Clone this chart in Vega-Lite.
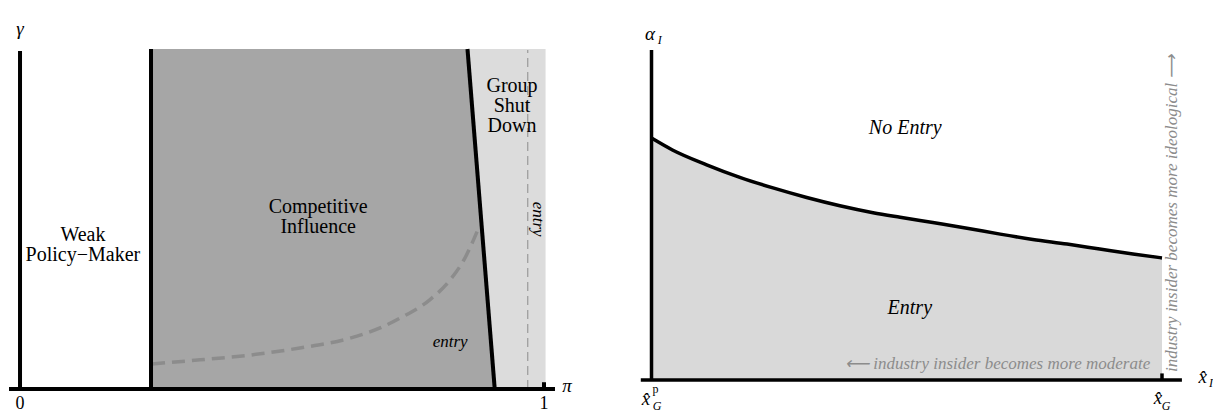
{
  "$schema": "https://vega.github.io/schema/vega-lite/v6.json",
  "padding": 0,
  "spacing": 0,
  "background": "white",
  "config": {"view": {"stroke": null}, "text": {"font": "Liberation Serif"}},
  "datasets": {
    "leftRegions": [
      {"region": "Competitive Influence", "y": 0, "x": 0.25, "x2": 0.906},
      {"region": "Competitive Influence", "y": 1.003, "x": 0.25, "x2": 0.854},
      {"region": "Group Shut Down", "y": 0, "x": 0.906, "x2": 1.003},
      {"region": "Group Shut Down", "y": 1.003, "x": 0.854, "x2": 1.003}
    ],
    "leftEntryLine": [{"x": 0.969, "y": 0, "y2": 1.0}],
    "leftEntryCurve": [
      {"x": 0.252, "y": 0.074}, {"x": 0.344, "y": 0.086}, {"x": 0.439, "y": 0.1},
      {"x": 0.534, "y": 0.121}, {"x": 0.63, "y": 0.15}, {"x": 0.687, "y": 0.18},
      {"x": 0.725, "y": 0.209}, {"x": 0.782, "y": 0.263}, {"x": 0.821, "y": 0.322},
      {"x": 0.849, "y": 0.386}, {"x": 0.876, "y": 0.478}
    ],
    "leftLines": [
      {"x": 0, "y": 0, "x2": 0, "y2": 0.997},
      {"x": 0.25, "y": 0, "x2": 0.25, "y2": 1.003},
      {"x": 0.906, "y": 0, "x2": 0.854, "y2": 1.003},
      {"x": -0.021, "y": 0, "x2": 1.021, "y2": 0},
      {"x": 1.0, "y": 0, "x2": 1.0, "y2": 0.02}
    ],
    "leftLabels": [
      {"x": 0.12, "y": 0.437, "label": "Weak"},
      {"x": 0.12, "y": 0.378, "label": "Policy−Maker"},
      {"x": 0.569, "y": 0.519, "label": "Competitive"},
      {"x": 0.569, "y": 0.46, "label": "Influence"},
      {"x": 0.939, "y": 0.876, "label": "Group"},
      {"x": 0.939, "y": 0.817, "label": "Shut"},
      {"x": 0.939, "y": 0.758, "label": "Down"}
    ],
    "leftEntry": [{"x": 0.821, "y": 0.124, "label": "entry"}],
    "leftEntryRot": [{"x": 0.989, "y": 0.501, "label": "entry"}],
    "leftAxisSymbols": [
      {"x": 0, "y": 1.044, "label": "γ"},
      {"x": 1.044, "y": -0.009, "label": "π"}
    ],
    "leftTicks": [
      {"x": 0, "y": -0.059, "label": "0"},
      {"x": 1, "y": -0.059, "label": "1"}
    ],
    "rightCurve": [
      {"x": 0, "y": 0.733}, {"x": 0.041, "y": 0.697}, {"x": 0.108, "y": 0.652},
      {"x": 0.173, "y": 0.614}, {"x": 0.238, "y": 0.582}, {"x": 0.304, "y": 0.553},
      {"x": 0.369, "y": 0.528}, {"x": 0.434, "y": 0.507}, {"x": 0.487, "y": 0.493},
      {"x": 0.551, "y": 0.477}, {"x": 0.618, "y": 0.46}, {"x": 0.683, "y": 0.442},
      {"x": 0.747, "y": 0.426}, {"x": 0.814, "y": 0.412}, {"x": 0.878, "y": 0.397},
      {"x": 0.943, "y": 0.382}, {"x": 1.0, "y": 0.37}
    ],
    "rightLines": [
      {"x": 0, "y": 0, "x2": 0, "y2": 1.0},
      {"x": -0.021, "y": 0, "x2": 1.039, "y2": 0},
      {"x": 1.0, "y": 0, "x2": 1.0, "y2": 0.02}
    ],
    "rightRegionLabels": [
      {"x": 0.497, "y": 0.745, "label": "No Entry"},
      {"x": 0.506, "y": 0.2, "label": "Entry"}
    ],
    "rightModerate": [{"x": 0.977, "y": 0.033, "label": "⟵ industry insider becomes more moderate"}],
    "rightIdeological": [{"x": 1.0196, "y": 0.024, "label": "industry insider becomes more ideological ⟶"}],
    "rightSymbols": [
      {"x": -0.003, "y": 1.03, "label": "α"},
      {"x": 1.08, "y": -0.009, "label": "x̂"},
      {"x": -0.011, "y": -0.076, "label": "x̂"},
      {"x": 0.992, "y": -0.073, "label": "x̂"}
    ],
    "rightSubs": [
      {"x": 0.016, "y": 1.018, "label": "I"},
      {"x": 1.096, "y": -0.021, "label": "I"},
      {"x": 0.011, "y": -0.091, "label": "G"},
      {"x": 1.008, "y": -0.091, "label": "G"}
    ],
    "rightSups": [{"x": 0.008, "y": -0.039, "label": "p"}]
  },
  "hconcat": [
    {
      "width": 600,
      "height": 411,
      "layer": [
        {
          "data": {"name": "leftRegions"},
          "mark": {"type": "area", "orient": "horizontal"},
          "encoding": {
            "y": {"field": "y", "type": "quantitative", "scale": {"domain": [-0.0649, 1.1475], "nice": false, "zero": false}, "axis": null},
            "x": {"field": "x", "type": "quantitative", "scale": {"domain": [-0.0382, 1.1069], "nice": false, "zero": false}, "axis": null},
            "x2": {"field": "x2"},
            "color": {"field": "region", "type": "nominal", "scale": {"domain": ["Competitive Influence", "Group Shut Down"], "range": ["#a6a6a6", "#dcdcdc"]}, "legend": null}
          }
        },
        {
          "data": {"name": "leftEntryLine"},
          "mark": {"type": "rule", "color": "#9a9a9a", "strokeWidth": 1.2, "strokeDash": [9, 5]},
          "encoding": {
            "x": {"field": "x", "type": "quantitative", "axis": null},
            "y": {"field": "y", "type": "quantitative", "axis": null},
            "y2": {"field": "y2"}
          }
        },
        {
          "data": {"name": "leftEntryCurve"},
          "mark": {"type": "line", "color": "#8c8c8c", "strokeWidth": 3.5, "strokeDash": [13, 7], "interpolate": "monotone"},
          "encoding": {
            "x": {"field": "x", "type": "quantitative", "axis": null},
            "y": {"field": "y", "type": "quantitative", "axis": null}
          }
        },
        {
          "data": {"name": "leftLines"},
          "mark": {"type": "rule", "color": "black", "strokeWidth": 4},
          "encoding": {
            "x": {"field": "x", "type": "quantitative", "axis": null},
            "y": {"field": "y", "type": "quantitative", "axis": null},
            "x2": {"field": "x2"},
            "y2": {"field": "y2"}
          }
        },
        {
          "data": {"name": "leftLabels"},
          "mark": {"type": "text", "align": "center", "baseline": "alphabetic", "fontSize": 20, "font": "Liberation Serif", "color": "black"},
          "encoding": {
            "x": {"field": "x", "type": "quantitative", "axis": null},
            "y": {"field": "y", "type": "quantitative", "axis": null},
            "text": {"field": "label"}
          }
        },
        {
          "data": {"name": "leftEntry"},
          "mark": {"type": "text", "align": "center", "baseline": "alphabetic", "fontSize": 17, "font": "Liberation Serif", "fontStyle": "italic", "color": "black"},
          "encoding": {
            "x": {"field": "x", "type": "quantitative", "axis": null},
            "y": {"field": "y", "type": "quantitative", "axis": null},
            "text": {"field": "label"}
          }
        },
        {
          "data": {"name": "leftEntryRot"},
          "mark": {"type": "text", "align": "center", "baseline": "middle", "angle": 90, "fontSize": 17, "font": "Liberation Serif", "fontStyle": "italic", "color": "black"},
          "encoding": {
            "x": {"field": "x", "type": "quantitative", "axis": null},
            "y": {"field": "y", "type": "quantitative", "axis": null},
            "text": {"field": "label"}
          }
        },
        {
          "data": {"name": "leftAxisSymbols"},
          "mark": {"type": "text", "align": "center", "baseline": "alphabetic", "fontSize": 19, "font": "Liberation Serif", "fontStyle": "italic", "color": "black"},
          "encoding": {
            "x": {"field": "x", "type": "quantitative", "axis": null},
            "y": {"field": "y", "type": "quantitative", "axis": null},
            "text": {"field": "label"}
          }
        },
        {
          "data": {"name": "leftTicks"},
          "mark": {"type": "text", "align": "center", "baseline": "alphabetic", "fontSize": 18, "font": "Liberation Serif", "color": "black"},
          "encoding": {
            "x": {"field": "x", "type": "quantitative", "axis": null},
            "y": {"field": "y", "type": "quantitative", "axis": null},
            "text": {"field": "label"}
          }
        }
      ]
    },
    {
      "width": 613,
      "height": 411,
      "layer": [
        {
          "data": {"name": "rightCurve"},
          "mark": {"type": "area", "color": "#d9d9d9", "interpolate": "monotone"},
          "encoding": {
            "x": {"field": "x", "type": "quantitative", "scale": {"domain": [-0.1009, 1.0999], "nice": false, "zero": false}, "axis": null},
            "y": {"field": "y", "type": "quantitative", "scale": {"domain": [-0.0939, 1.1515], "nice": false, "zero": false}, "axis": null},
            "y2": {"datum": 0}
          }
        },
        {
          "data": {"name": "rightCurve"},
          "mark": {"type": "line", "color": "black", "strokeWidth": 3.5, "interpolate": "monotone"},
          "encoding": {
            "x": {"field": "x", "type": "quantitative", "axis": null},
            "y": {"field": "y", "type": "quantitative", "axis": null}
          }
        },
        {
          "data": {"name": "rightLines"},
          "mark": {"type": "rule", "color": "black", "strokeWidth": 3.5},
          "encoding": {
            "x": {"field": "x", "type": "quantitative", "axis": null},
            "y": {"field": "y", "type": "quantitative", "axis": null},
            "x2": {"field": "x2"},
            "y2": {"field": "y2"}
          }
        },
        {
          "data": {"name": "rightRegionLabels"},
          "mark": {"type": "text", "align": "center", "baseline": "alphabetic", "fontSize": 20, "font": "Liberation Serif", "fontStyle": "italic", "color": "black"},
          "encoding": {
            "x": {"field": "x", "type": "quantitative", "axis": null},
            "y": {"field": "y", "type": "quantitative", "axis": null},
            "text": {"field": "label"}
          }
        },
        {
          "data": {"name": "rightModerate"},
          "mark": {"type": "text", "align": "right", "baseline": "alphabetic", "fontSize": 17, "font": "Liberation Serif", "fontStyle": "italic", "color": "#8c8c8c"},
          "encoding": {
            "x": {"field": "x", "type": "quantitative", "axis": null},
            "y": {"field": "y", "type": "quantitative", "axis": null},
            "text": {"field": "label"}
          }
        },
        {
          "data": {"name": "rightIdeological"},
          "mark": {"type": "text", "align": "left", "baseline": "middle", "angle": 270, "fontSize": 17, "font": "Liberation Serif", "fontStyle": "italic", "color": "#8c8c8c"},
          "encoding": {
            "x": {"field": "x", "type": "quantitative", "axis": null},
            "y": {"field": "y", "type": "quantitative", "axis": null},
            "text": {"field": "label"}
          }
        },
        {
          "data": {"name": "rightSymbols"},
          "mark": {"type": "text", "align": "center", "baseline": "alphabetic", "fontSize": 19, "font": "Liberation Serif", "fontStyle": "italic", "color": "black"},
          "encoding": {
            "x": {"field": "x", "type": "quantitative", "axis": null},
            "y": {"field": "y", "type": "quantitative", "axis": null},
            "text": {"field": "label"}
          }
        },
        {
          "data": {"name": "rightSubs"},
          "mark": {"type": "text", "align": "center", "baseline": "alphabetic", "fontSize": 12, "font": "Liberation Serif", "fontStyle": "italic", "color": "black"},
          "encoding": {
            "x": {"field": "x", "type": "quantitative", "axis": null},
            "y": {"field": "y", "type": "quantitative", "axis": null},
            "text": {"field": "label"}
          }
        },
        {
          "data": {"name": "rightSups"},
          "mark": {"type": "text", "align": "center", "baseline": "alphabetic", "fontSize": 12, "font": "Liberation Serif", "color": "black"},
          "encoding": {
            "x": {"field": "x", "type": "quantitative", "axis": null},
            "y": {"field": "y", "type": "quantitative", "axis": null},
            "text": {"field": "label"}
          }
        }
      ]
    }
  ]
}
